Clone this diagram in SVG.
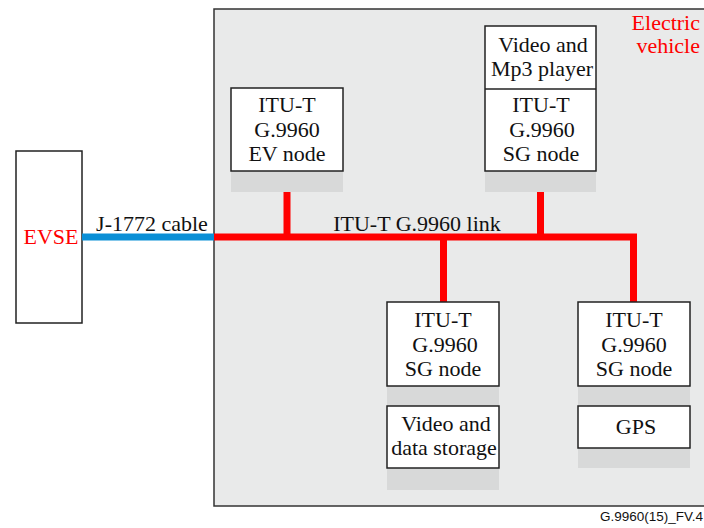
<svg xmlns="http://www.w3.org/2000/svg" width="704" height="528" viewBox="0 0 704 528">
<style>
.box{fill:#fff;stroke:#222;stroke-width:1.5}
.shadow{fill:#d8d9d9}
.t{font-size:22px;fill:#111;text-anchor:middle}
.red{fill:#ff0000}
.link{stroke:#ff0000;stroke-width:7;fill:none}
</style>
<rect x="0" y="0" width="704" height="528" fill="#fff"/>
<g font-family="Liberation Serif, Tinos, Times New Roman, DejaVu Serif, serif">
<g id="ev">
<rect x="214" y="9" width="492" height="497" fill="#e9eaea" stroke="#333" stroke-width="1.5"/>
<text class="t red" x="700" y="30" style="text-anchor:end">Electric</text>
<text class="t red" x="700" y="53" style="text-anchor:end">vehicle</text>
</g>
<g id="evse">
<rect x="16" y="151" width="66" height="172" fill="#fff" stroke="#222" stroke-width="1.5"/>
<text class="t red" x="51" y="244">EVSE</text>
</g>
<g id="connectors">
<line x1="82" y1="237" x2="214" y2="237" stroke="#0a8fd6" stroke-width="7"/>
<polyline class="link" points="214,237 633.5,237 633.5,302"/>
<line class="link" x1="287" y1="171" x2="287" y2="237"/>
<line class="link" x1="540.5" y1="171" x2="540.5" y2="237"/>
<line class="link" x1="443.5" y1="237" x2="443.5" y2="302"/>
<text class="t" x="152" y="231">J-1772 cable</text>
<text class="t" x="417" y="231">ITU-T G.9960 link</text>
</g>
<g id="ev-node">
<rect class="shadow" x="231" y="171" width="112" height="21"/>
<rect class="box" x="231" y="88" width="112" height="83"/>
<text class="t" x="287" y="112">ITU-T</text>
<text class="t" x="287" y="137">G.9960</text>
<text class="t" x="287" y="161">EV node</text>
</g>
<g id="sg-node-top">
<rect class="shadow" x="485" y="171" width="111" height="21"/>
<rect class="box" x="485" y="26" width="111" height="145"/>
<line x1="485" y1="89" x2="596" y2="89" stroke="#222" stroke-width="1.5"/>
<text class="t" x="543" y="52">Video and</text>
<text class="t" x="542" y="76">Mp3 player</text>
<text class="t" x="541" y="112">ITU-T</text>
<text class="t" x="542" y="137">G.9960</text>
<text class="t" x="541" y="161">SG node</text>
</g>
<g id="sg-node-1">
<rect class="shadow" x="387" y="386" width="112" height="104"/>
<rect class="box" x="387" y="302" width="112" height="84"/>
<text class="t" x="443" y="327">ITU-T</text>
<text class="t" x="445" y="352">G.9960</text>
<text class="t" x="443" y="376">SG node</text>
</g>
<g id="storage">
<rect class="box" x="387" y="406" width="112" height="62"/>
<text class="t" x="446" y="431">Video and</text>
<text class="t" x="444" y="455">data storage</text>
</g>
<g id="sg-node-2">
<rect class="shadow" x="578" y="386" width="112" height="82"/>
<rect class="box" x="578" y="302" width="112" height="84"/>
<text class="t" x="634" y="327">ITU-T</text>
<text class="t" x="634" y="352">G.9960</text>
<text class="t" x="634" y="376">SG node</text>
</g>
<g id="gps">
<rect class="box" x="578" y="406" width="112" height="42"/>
<text class="t" x="636" y="434">GPS</text>
</g>
</g>
<text x="703" y="521" font-family="Liberation Sans, Arial, sans-serif" font-size="13.5" fill="#111" text-anchor="end">G.9960(15)_FV.4</text>
</svg>
